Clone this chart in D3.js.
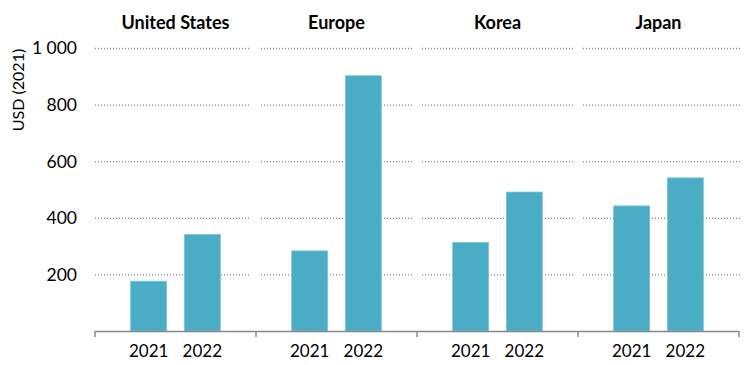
<!DOCTYPE html>
<html><head><meta charset="utf-8">
<script src="https://cdn.jsdelivr.net/npm/d3@7"></script>
<style>body{margin:0;background:#fff;} text{font-family:Lato,"Open Sans",sans-serif;fill:#000;}</style>
</head><body><svg id="c" width="750" height="365"></svg>
<script>
const regions = ["United States", "Europe", "Korea", "Japan"];
const years = ["2021", "2022"];
const values2021 = [176, 283, 313, 442];
const values2022 = [341, 902, 491, 541];
const yTicks = [200, 400, 600, 800, 1000];
const yLabel = "USD (2021)";

(function () {
const svg = d3.select("#c");
const mLeft = 95, mRight = 739, mTop = 48, mBottom = 331;
const x0 = d3.scaleBand().domain(regions).range([mLeft, mRight]);
const x1 = d3.scaleBand().domain(years).range([0, x0.bandwidth()]).paddingInner(0.33).paddingOuter(0.665);
const y = d3.scaleLinear().domain([0, 1000]).range([mBottom, mTop]);

// gridlines per panel
regions.forEach((r, i) => {
  const xs = x0(r) + (i === 0 ? 0 : 5);
  const xe = i === regions.length - 1 ? x0(r) + x0.bandwidth() + 2 : x0(r) + x0.bandwidth() - 5;
  svg.append("g").selectAll("line").data(yTicks).join("line")
    .attr("x1", xs).attr("x2", xe)
    .attr("y1", d => y(d) + 0.5).attr("y2", d => y(d) + 0.5)
    .attr("stroke", "#808080").attr("stroke-width", 1.3).attr("stroke-dasharray", "1,2");
});

// y tick labels
svg.append("g").selectAll("text").data(yTicks).join("text")
  .attr("x", 77).attr("y", d => y(d)).attr("dy", "0.36em")
  .attr("text-anchor", "end").attr("font-size", 17.5)
  .text(d => d3.format(",")(d).replace(",", " "));

// y axis label
svg.append("text").attr("transform", "translate(18,90) rotate(-90)")
  .attr("text-anchor", "middle").attr("dy", "0.35em").attr("font-size", 16).text(yLabel);

// bars
const data = [];
regions.forEach((r, i) => {
  data.push({region: r, year: "2021", value: values2021[i]});
  data.push({region: r, year: "2022", value: values2022[i]});
});
svg.append("g").selectAll("rect").data(data).join("rect")
  .attr("x", d => x0(d.region) + x1(d.year))
  .attr("width", x1.bandwidth())
  .attr("y", d => y(d.value))
  .attr("height", d => y(0) - y(d.value))
  .attr("fill", "#4BACC6").attr("stroke", "#7cc4d6").attr("stroke-width", 0.8);

// x axis
svg.append("line").attr("x1", mLeft).attr("x2", mRight).attr("y1", mBottom + 0.5).attr("y2", mBottom + 0.5)
  .attr("stroke", "#888").attr("stroke-width", 1.5);
const bounds = regions.map(r => x0(r)).concat([mRight]);
svg.append("g").selectAll("line").data(bounds).join("line")
  .attr("x1", d => d).attr("x2", d => d).attr("y1", mBottom).attr("y2", mBottom + 6)
  .attr("stroke", "#888").attr("stroke-width", 1.5);

// year labels
svg.append("g").selectAll("text").data(data).join("text")
  .attr("x", d => x0(d.region) + x1(d.year) + x1.bandwidth() / 2)
  .attr("y", 351).attr("dy", "0.36em").attr("text-anchor", "middle")
  .attr("font-size", 17).text(d => d.year);

// panel titles
svg.append("g").selectAll("text").data(regions).join("text")
  .attr("x", d => x0(d) + x0.bandwidth() / 2).attr("y", 23).attr("dy", "0.36em")
  .attr("text-anchor", "middle").attr("font-size", 18).attr("font-weight", "bold").text(d => d);
})();
</script></body></html>
